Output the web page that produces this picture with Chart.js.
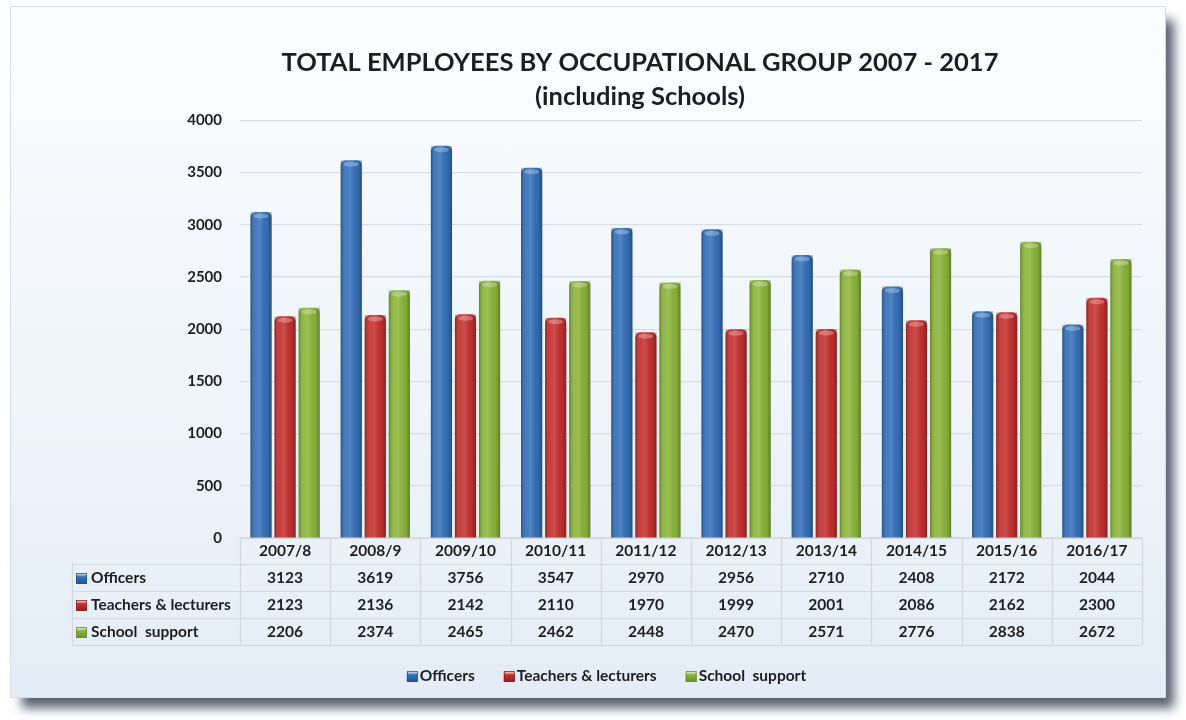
<!DOCTYPE html>
<html>
<head>
<meta charset="utf-8">
<script src="https://cdn.jsdelivr.net/npm/chart.js@4"></script>
<style>
  html, body { margin: 0; padding: 0; background: #ffffff; }
  body { width: 1186px; height: 720px; position: relative; overflow: hidden; }
  #panel {
    position: absolute; left: 10px; top: 6px; width: 1154px; height: 690px;
    background: linear-gradient(180deg, #fcfdff 0%, #f1f6fb 45%, #e4edf7 100%);
    border: 1px solid #d6dde6;
    box-shadow: 10px 12px 10px -2px rgba(62, 72, 88, 0.85);
  }
  #wrap { position: absolute; left: 0; top: 0; width: 1186px; height: 720px; }
</style>
</head>
<body>
<div id="panel"></div>
<div id="wrap"><canvas id="myChart" width="1186" height="720"></canvas></div>
<script>
const years = ['2007/8', '2008/9', '2009/10', '2010/11', '2011/12', '2012/13', '2013/14', '2014/15', '2015/16', '2016/17'];

const officers = [3123, 3619, 3756, 3547, 2970, 2956, 2710, 2408, 2172, 2044];
const teachers = [2123, 2136, 2142, 2110, 1970, 1999, 2001, 2086, 2162, 2300];
const support = [2206, 2374, 2465, 2462, 2448, 2470, 2571, 2776, 2838, 2672];

const yTicks = [0, 500, 1000, 1500, 2000, 2500, 3000, 3500, 4000];

const FONT = 'Lato, "Open Sans", sans-serif';

const datasets = [
  { label: 'Officers', data: officers, backgroundColor: '#3470b9', borderColor: '#23548f' },
  { label: 'Teachers & lecturers', data: teachers, backgroundColor: '#c4302e', borderColor: '#8f2220' },
  { label: 'School  support', data: support, backgroundColor: '#8bb53a', borderColor: '#6a8d27' }
];

// rounded "cylinder" look on every bar
const barShade = {
  id: 'barShade',
  afterDatasetsDraw(chart) {
    const ctx = chart.ctx;
    chart.data.datasets.forEach((ds, di) => {
      chart.getDatasetMeta(di).data.forEach(bar => {
        const { x, y, base, width } = bar.getProps(['x', 'y', 'base', 'width'], true);
        const l = x - width / 2;
        const g = ctx.createLinearGradient(l, 0, l + width, 0);
        g.addColorStop(0, 'rgba(0,0,0,0.28)');
        g.addColorStop(0.25, 'rgba(255,255,255,0.08)');
        g.addColorStop(0.45, 'rgba(255,255,255,0.14)');
        g.addColorStop(0.8, 'rgba(0,0,0,0.05)');
        g.addColorStop(1, 'rgba(0,0,0,0.30)');
        ctx.save();
        ctx.fillStyle = g;
        ctx.fillRect(l, y, width, base - y);
        // lighter cap on top
        ctx.beginPath();
        ctx.ellipse(x, y + 4, width / 2 - 3, 2.5, 0, 0, Math.PI * 2);
        ctx.fillStyle = 'rgba(255,255,255,0.28)';
        ctx.fill();
        ctx.restore();
      });
    });
  }
};

// data table under the x axis plus the legend below it
const dataTable = {
  id: 'dataTable',
  afterDraw(chart) {
    const ctx = chart.ctx;
    const area = chart.chartArea;
    const xs = chart.scales.x;
    const step = (area.right - area.left) / years.length;
    const tableLeft = 72;
    const headerH = 25.5;
    const rowH = 27;
    const rows = [officers, teachers, support];
    const top = area.bottom;
    const bottom = top + headerH + rowH * rows.length;

    ctx.save();
    ctx.strokeStyle = '#d3d8de';
    ctx.lineWidth = 1.2;
    ctx.beginPath();
    for (let i = 0; i <= years.length; i++) {
      const px = Math.round(area.left + i * step) + 0.5;
      ctx.moveTo(px, top);
      ctx.lineTo(px, bottom);
    }
    ctx.moveTo(area.left, top + 0.5);
    ctx.lineTo(area.right, top + 0.5);
    for (let r = 0; r <= rows.length; r++) {
      const py = Math.round(top + headerH + r * rowH) + 0.5;
      ctx.moveTo(tableLeft, py);
      ctx.lineTo(area.right, py);
    }
    ctx.moveTo(tableLeft + 0.5, top + headerH);
    ctx.lineTo(tableLeft + 0.5, bottom);
    ctx.stroke();

    ctx.font = 'bold 15.5px ' + FONT;
    ctx.fillStyle = '#1e1e1e';
    ctx.textBaseline = 'middle';
    rows.forEach((vals, r) => {
      const cy = top + headerH + r * rowH + rowH / 2 + 1;
      ctx.textAlign = 'center';
      vals.forEach((v, i) => ctx.fillText(String(v), xs.getPixelForValue(i), cy));
      drawKey(ctx, tableLeft + 4, cy - 5, datasets[r]);
      ctx.fillStyle = '#1e1e1e';
      ctx.textAlign = 'left';
      ctx.fillText(datasets[r].label, tableLeft + 19, cy);
    });

    // legend
    const gap = 28;
    const widths = datasets.map(d => 14 + ctx.measureText(d.label).width);
    const total = widths.reduce((a, b) => a + b, 0) + gap * (datasets.length - 1);
    let lx = (tableLeft + area.right) / 2 - total / 2;
    const ly = 676;
    datasets.forEach((d, i) => {
      drawKey(ctx, lx, ly - 5, d);
      ctx.fillStyle = '#1e1e1e';
      ctx.textAlign = 'left';
      ctx.fillText(d.label, lx + 13, ly);
      lx += widths[i] + gap;
    });
    ctx.restore();
  }
};

function drawKey(ctx, x, y, ds) {
  const g = ctx.createLinearGradient(0, y, 0, y + 11);
  g.addColorStop(0, '#ffffff');
  g.addColorStop(0.35, ds.backgroundColor);
  g.addColorStop(1, ds.borderColor);
  ctx.fillStyle = g;
  ctx.fillRect(x, y, 11, 11);
  ctx.strokeStyle = ds.borderColor;
  ctx.lineWidth = 0.8;
  ctx.strokeRect(x + 0.5, y + 0.5, 10, 10);
}

const config = {
  type: 'bar',
  data: {
    labels: years,
    datasets: datasets.map(d => ({
      label: d.label,
      data: d.data,
      backgroundColor: d.backgroundColor,
      borderColor: d.borderColor,
      borderWidth: 0,
      borderRadius: { topLeft: 5, topRight: 5 },
      borderSkipped: 'bottom',
      categoryPercentage: 0.8,
      barPercentage: 0.88
    }))
  },
  options: {
    responsive: false,
    animation: false,
    layout: { padding: { left: 138, right: 44, top: 30, bottom: 0 } },
    plugins: {
      legend: { display: false },
      tooltip: { enabled: false },
      title: {
        display: true,
        text: ['TOTAL EMPLOYEES BY OCCUPATIONAL GROUP 2007 - 2017', '(including Schools)'],
        color: '#1e1e1e',
        font: { family: FONT, size: 25.5, weight: 'bold', lineHeight: 1.36 },
        padding: { top: 15, bottom: 6 }
      }
    },
    scales: {
      x: {
        grid: { display: false, drawTicks: false },
        border: { display: false },
        ticks: {
          color: '#1e1e1e',
          font: { family: FONT, size: 15.5, weight: 'bold' },
          padding: 4,
          maxRotation: 0
        },
        afterFit(scale) { scale.height = 182; }
      },
      y: {
        min: 0,
        max: 4000,
        afterBuildTicks(scale) { scale.ticks = yTicks.map(v => ({ value: v })); },
        grid: { color: '#d9dee4', lineWidth: 1.2, drawTicks: false },
        border: { display: false },
        ticks: {
          color: '#1e1e1e',
          font: { family: FONT, size: 15, weight: 'bold' },
          padding: 18,
          callback: v => String(v)
        },
        afterFit(scale) { scale.width = 102; }
      }
    }
  },
  plugins: [barShade, dataTable]
};

const myChart = new Chart(document.getElementById('myChart'), config);
</script>
</body>
</html>
